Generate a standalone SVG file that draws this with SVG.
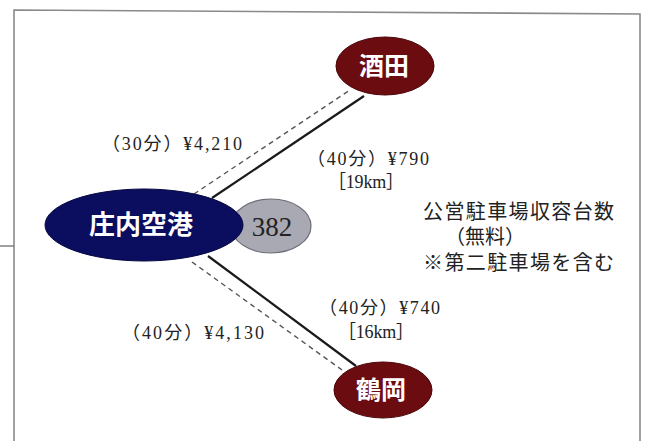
<svg xmlns="http://www.w3.org/2000/svg" width="651" height="441" viewBox="0 0 651 441">
<style>
.frame{fill:none;stroke:#8a8a8a;stroke-width:1.6}
.solid{stroke:#1a1a1a;stroke-width:2.2;fill:none}
.dash{stroke:#555;stroke-width:1.4;stroke-dasharray:5 4;fill:none}
.nodeText{font-family:"Noto Sans CJK JP","Noto Sans",sans-serif;font-weight:bold;fill:#fff;text-anchor:middle}
.lbl{font-family:"Liberation Serif","Noto Sans CJK JP",serif;font-size:18px;fill:#222}
.note{font-family:"Liberation Serif","Noto Sans CJK JP",serif;font-size:20px;fill:#222}
.city{fill:#6a0c10;stroke:#4a0508;stroke-width:1}
</style>
<rect width="651" height="441" fill="#fff"/>
<path class="frame" d="M14,441 L14,10 L640,14 L640,441"/>
<line x1="0" y1="246" x2="14" y2="246" stroke="#777" stroke-width="1.4"/>
<g id="connectors">
<line class="solid" x1="212" y1="198" x2="364" y2="96"/>
<line class="dash" x1="194" y1="194" x2="350" y2="90"/>
<line class="solid" x1="208" y1="256" x2="356" y2="366"/>
<line class="dash" x1="192" y1="262" x2="342" y2="370"/>
</g>
<g id="node-382">
<ellipse cx="271" cy="226" rx="40" ry="27" fill="#a9a9b3" stroke="#6e6e78" stroke-width="1.2"/>
<text x="272" y="236" font-family="Liberation Serif,serif" font-size="27" fill="#222" text-anchor="middle">382</text>
</g>
<g id="node-shonai">
<ellipse cx="144" cy="225" rx="99" ry="36" fill="#0b0d5e" stroke="#050740" stroke-width="1"/>
<text class="nodeText" x="141" y="234" font-size="26">庄内空港</text>
</g>
<g id="node-sakata">
<ellipse class="city" cx="385" cy="66" rx="49" ry="29"/>
<text class="nodeText" x="384" y="75" font-size="25">酒田</text>
</g>
<g id="node-tsuruoka">
<ellipse class="city" cx="383" cy="390" rx="49" ry="28"/>
<text class="nodeText" x="381" y="399" font-size="25">鶴岡</text>
</g>
<g id="labels">
<text class="lbl" x="102" y="150" textLength="140" lengthAdjust="spacing">（30分）¥4,210</text>
<text class="lbl" x="307" y="165" textLength="122" lengthAdjust="spacing">（40分）¥790</text>
<text class="lbl" x="328" y="188" textLength="76" lengthAdjust="spacing">［19km］</text>
<text class="lbl" x="319" y="314" textLength="121" lengthAdjust="spacing">（40分）¥740</text>
<text class="lbl" x="338" y="338" textLength="76" lengthAdjust="spacing">［16km］</text>
<text class="lbl" x="122" y="339" textLength="142" lengthAdjust="spacing">（40分）¥4,130</text>
<text class="note" x="423" y="219" textLength="191" lengthAdjust="spacing">公営駐車場収容台数</text>
<text class="note" x="445" y="244">（無料）</text>
<text class="note" x="423" y="270" textLength="191" lengthAdjust="spacing">※第二駐車場を含む</text>
</g>
</svg>
